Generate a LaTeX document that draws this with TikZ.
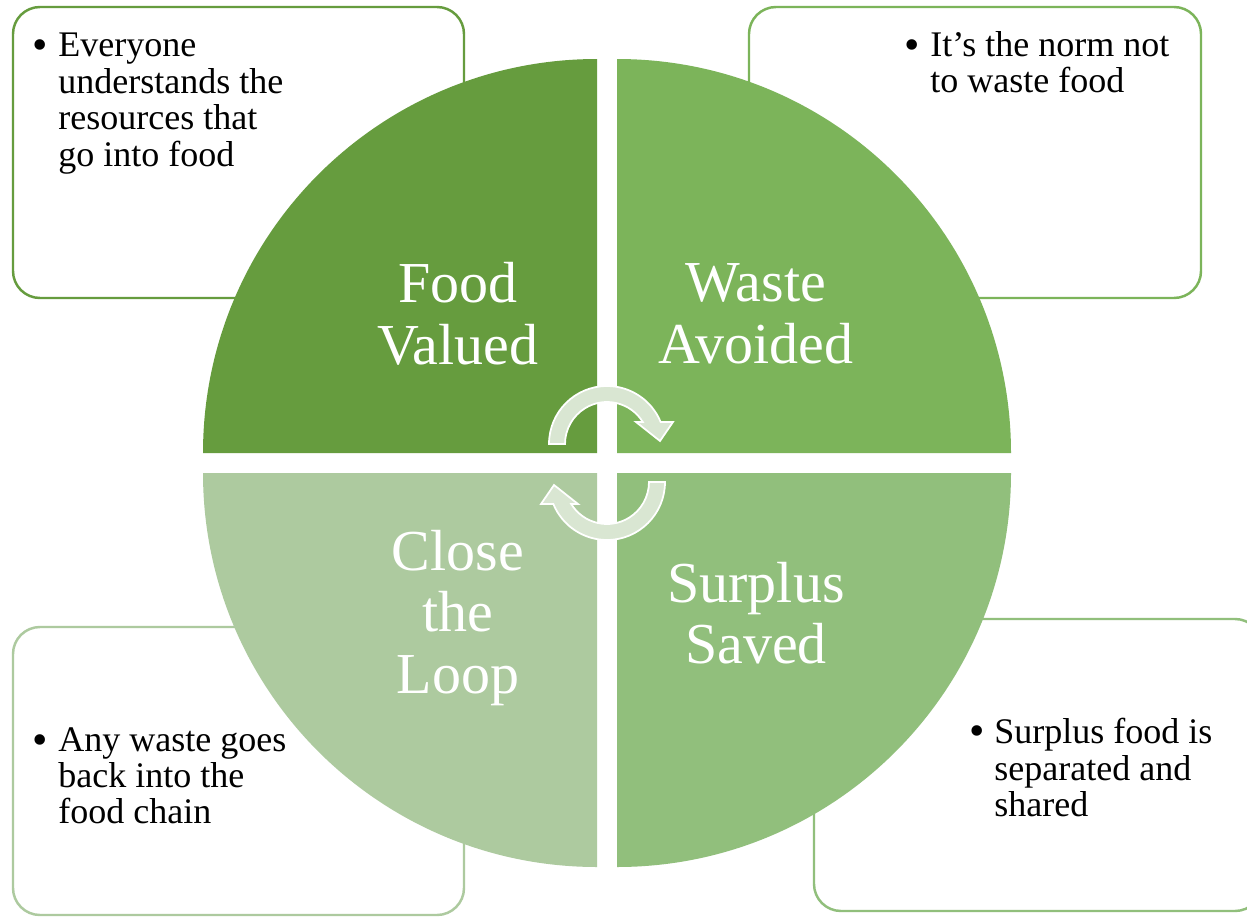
\documentclass[tikz,border=0pt]{standalone}
\usepackage{fontspec}
\setmainfont{Liberation Serif}
\usetikzlibrary{positioning}
\definecolor{greenA}{HTML}{669C3E}
\definecolor{greenB}{HTML}{7CB45A}
\definecolor{greenC}{HTML}{91BF7C}
\definecolor{greenD}{HTML}{ADCA9F}
\definecolor{arrowfill}{HTML}{D9E6D2}
\tikzset{
    note/.style = {
        draw,
        line width=1.4pt,
        rounded corners=0.54cm
    },
    notetext/.style = {
        anchor=north west,
        inner sep=0pt,
        align=left,
        font=\fontsize{20.5}{20.7}\selectfont
    },
    bullet/.style = {
        inner sep=0pt,
        font=\fontsize{25}{25}\selectfont
    },
    title/.style = {
        text=white,
        align=center,
        inner sep=0pt,
        font=\fontsize{33}{35}\selectfont
    },
    cyclearrow/.style = {
        fill=arrowfill,
        draw=white,
        line width=1pt
    },
}

\begin{document}
\begin{tikzpicture}[x=0.02cm, y=-0.02cm]

    \path[use as bounding box, fill=white] (0,0) rectangle (1247,916);

    % side boxes
    \draw[note, greenA] (13,7) rectangle (464,298);
    \draw[note, greenB] (749,7) rectangle (1201,298);
    \draw[note, greenD] (13,627) rectangle (464,915);
    \draw[note, greenC] (814,619) rectangle (1262,911);

    \node[bullet] (bul_valued) at (40,50) {•};
    \node[notetext] (txt_valued) at (58,33) {Everyone\\understands the\\resources that\\go into food};

    \node[bullet] (bul_avoided) at (912,50) {•};
    \node[notetext] (txt_avoided) at (930,31) {It’s the norm not\\to waste food};

    \node[bullet] (bul_loop) at (40,745) {•};
    \node[notetext] (txt_loop) at (58,727) {Any waste goes\\back into the\\food chain};

    \node[bullet] (bul_saved) at (977,736) {•};
    \node[notetext] (txt_saved) at (994,718) {Surplus food is\\separated and\\shared};

    % quadrants
    \fill[greenA] (597,453) -- (203,453) arc[start angle=180, end angle=270, radius=394] -- cycle;
    \fill[greenB] (617,453) -- (617,59) arc[start angle=270, end angle=360, radius=394] -- cycle;
    \fill[greenC] (617,473) -- (1011,473) arc[start angle=0, end angle=90, radius=394] -- cycle;
    \fill[greenD] (597,473) -- (597,867) arc[start angle=90, end angle=180, radius=394] -- cycle;

    \node[title] (valued) at (458,314) {Food\\Valued};
    \node[title] (avoided) at (756,314) {Waste\\Avoided};
    \node[title] (loop) at (458,618) {Close\\the\\Loop};
    \node[title] (saved) at (756,613) {Surplus\\Saved};

    % cycle arrows
    \path[cyclearrow] (549,444) arc[start angle=180, end angle=337.7, radius=58]
        -- (673,422) -- (660,441) -- (636,422) -- (642.8,422)
        arc[start angle=328.4, end angle=180, radius=42] -- cycle;
    \path[cyclearrow] (665,482) arc[start angle=0, end angle=157.7, radius=58]
        -- (541,504) -- (554,485) -- (578,504) -- (571.2,504)
        arc[start angle=148.4, end angle=0, radius=42] -- cycle;

\end{tikzpicture}
\end{document}
